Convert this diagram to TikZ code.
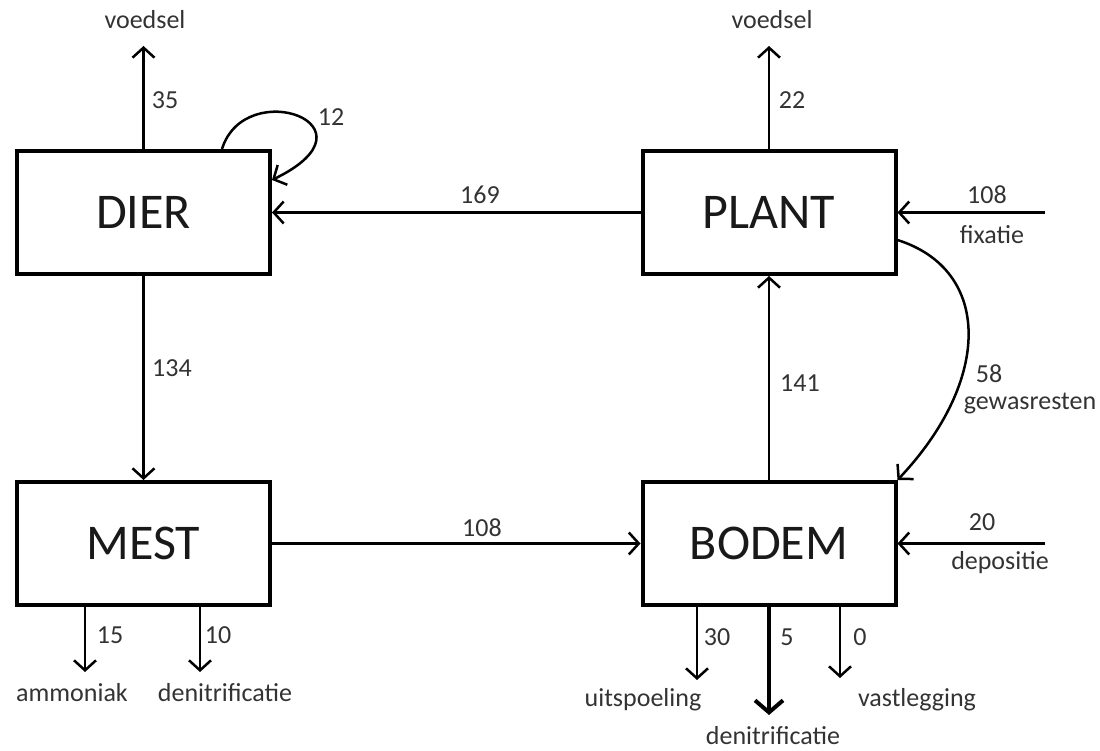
\documentclass[tikz,border=0pt]{standalone}
\usepackage{fontspec}
\setmainfont{Carlito}
\usetikzlibrary{arrows.meta}
\begin{document}
\begin{tikzpicture}[x=1pt,y=-1pt,
  box/.style={draw,line width=4pt,minimum width=253pt,minimum height=123pt,inner sep=0pt,
    font=\fontsize{50}{60}\selectfont,text=black!90},
  flow/.style={line width=2.5pt,-{Straight Barb[length=10pt,width=22pt]}},
  bigflow/.style={line width=4pt,-{Straight Barb[length=12pt,width=28pt]}},
  lbl/.style={font=\fontsize{26}{30}\selectfont,inner sep=0pt,text=black!80}]
\useasboundingbox (0,0) rectangle (1100,751);
% boxes
\node[box] (dier)  at (143.5,212.5) {DIER};
\node[box] (plant) at (769,212.5)   {PLANT};
\node[box] (mest)  at (143.5,543.5) {MEST};
\node[box] (bodem) at (769,543.5)   {BODEM};
% free ends
\coordinate (vd1) at (143.5,46);
\coordinate (vd2) at (769,46);
\coordinate (fx)  at (1045,212.5);
\coordinate (dp)  at (1045,543.5);
\coordinate (am)  at (85,672);
\coordinate (dn1) at (200,672);
\coordinate (ui)  at (697,680);
\coordinate (dn2) at (769,715);
\coordinate (va)  at (840,678);
\coordinate (ls)  at (222,0);
\coordinate (le)  at (0,180);
\coordinate (gs)  at (0,240);
% connectors
\draw[flow] (dier.north) -- (vd1);
\draw[flow] (plant.north) -- (vd2);
\draw[flow] (dier.north -| ls) .. controls (245,75) and (385,125) .. (dier.east |- le);
\draw[flow] (plant.west) -- (dier.east);
\draw[flow] (fx) -- (plant.east);
\draw[flow] (plant.east |- gs) .. controls (992,270) and (992,380) .. (bodem.north east);
\draw[flow] (dier.south) -- (mest.north);
\draw[flow] (bodem.north) -- (plant.south);
\draw[flow] (mest.east) -- (bodem.west);
\draw[flow] (dp) -- (bodem.east);
\draw[flow] (mest.south -| am) -- (am);
\draw[flow] (mest.south -| dn1) -- (dn1);
\draw[flow] (bodem.south -| ui) -- (ui);
\draw[bigflow] (bodem.south -| dn2) -- (dn2);
\draw[flow] (bodem.south -| va) -- (va);
% labels
\node[lbl] (t1)  at (145,20)  {voedsel};
\node[lbl] (t2)  at (165,100) {35};
\node[lbl] (t3)  at (331,117) {12};
\node[lbl] (t4)  at (480,195) {169};
\node[lbl] (t5)  at (772,20)  {voedsel};
\node[lbl] (t6)  at (792,100) {22};
\node[lbl] (t7)  at (987,195) {108};
\node[lbl] (t8)  at (992,235) {fixatie};
\node[lbl] (t9)  at (989,374) {58};
\node[lbl] (t10) at (1030,404) {gewasresten};
\node[lbl] (t11) at (172,368) {134};
\node[lbl] (t12) at (800,383) {141};
\node[lbl] (t13) at (482,528) {108};
\node[lbl] (t14) at (982,522) {20};
\node[lbl] (t15) at (1000,563) {depositie};
\node[lbl] (t16) at (110,635) {15};
\node[lbl] (t17) at (72,693)  {ammoniak};
\node[lbl] (t18) at (218,635) {10};
\node[lbl] (t19) at (225,693) {denitrificatie};
\node[lbl] (t20) at (717,637) {30};
\node[lbl] (t21) at (643,700) {uitspoeling};
\node[lbl] (t22) at (787,637) {5};
\node[lbl] (t23) at (773,736) {denitrificatie};
\node[lbl] (t24) at (860,637) {0};
\node[lbl] (t25) at (917,700) {vastlegging};
\end{tikzpicture}
\end{document}
